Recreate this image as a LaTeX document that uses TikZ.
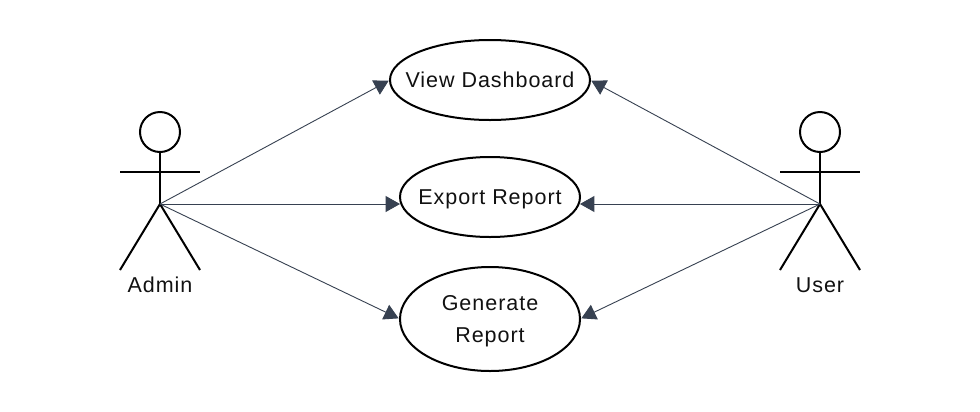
\documentclass[tikz,border=0pt]{standalone}
\usepackage{fontspec}
\setmainfont[LetterSpace=4.5]{Liberation Sans}
\usetikzlibrary{shapes.geometric,arrows.meta}
\definecolor{linkc}{HTML}{374151}
\definecolor{inkc}{HTML}{111111}
\newcommand{\ucline}[1]{\makebox[0pt][c]{#1}}
\tikzset{
  usecase/.style={draw=black,line width=2bp,ellipse,inner sep=0pt,outer sep=0pt,align=center,font=\fontsize{21.5bp}{32bp}\selectfont,text=inkc},
  oneline/.style={text height=15.4bp,text depth=0pt},
  actorline/.style={draw=black,line width=2bp},
  actorhead/.style={draw=black,line width=2bp,circle,minimum size=40bp,inner sep=0pt,outer sep=0pt},
  actorname/.style={inner sep=0pt,font=\fontsize{21.5bp}{24bp}\selectfont,text=inkc},
  link/.style={draw=linkc,line width=0.9bp,shorten >=1.5bp,-{Triangle[length=14.4bp,width=16bp,fill=linkc]}},
  straightlink/.style={link,shorten >=0pt}
}
\begin{document}
\begin{tikzpicture}[x=1bp,y=-1bp]
\useasboundingbox[fill=white] (0,0) rectangle (980,411);
\node[usecase,oneline,minimum width=200bp,minimum height=80bp] (view) at (490,80) {\ucline{View Dashboard}};
\node[usecase,oneline,minimum width=180bp,minimum height=80bp] (export) at (490,197) {\ucline{Export Report}};
\node[usecase,minimum width=180bp,minimum height=104bp] (generate) at (490,319) {\ucline{Generate}\\\raisebox{0pt}[\height][0pt]{\ucline{Report}}};
% Admin
\node[actorhead] (adminhead) at (160,132) {};
\coordinate (adminhub) at (160,204);
\coordinate (adminarml) at (120,172);
\coordinate (adminarmr) at (200,172);
\coordinate (adminlegl) at (120,270);
\coordinate (adminlegr) at (200,270);
\draw[actorline] (adminhead.south) -- (adminhub);
\draw[actorline] (adminarml) -- (adminarmr);
\draw[actorline] (adminlegl) -- (adminhub) -- (adminlegr);
\node[actorname] (adminname) at (160,285) {Admin};
% User
\node[actorhead] (userhead) at (820,132) {};
\coordinate (userhub) at (820,204);
\coordinate (userarml) at (780,172);
\coordinate (userarmr) at (860,172);
\coordinate (userlegl) at (780,270);
\coordinate (userlegr) at (860,270);
\draw[actorline] (userhead.south) -- (userhub);
\draw[actorline] (userarml) -- (userarmr);
\draw[actorline] (userlegl) -- (userhub) -- (userlegr);
\node[actorname] (username) at (820,285) {User};
% Links
\draw[link] (adminhub) -- (view.west);
\draw[straightlink] (adminhub) -- (export.west |- adminhub);
\draw[link] (adminhub) -- (generate.west);
\draw[link] (userhub) -- (view.east);
\draw[straightlink] (userhub) -- (export.east |- userhub);
\draw[link] (userhub) -- (generate.east);
\end{tikzpicture}
\end{document}
